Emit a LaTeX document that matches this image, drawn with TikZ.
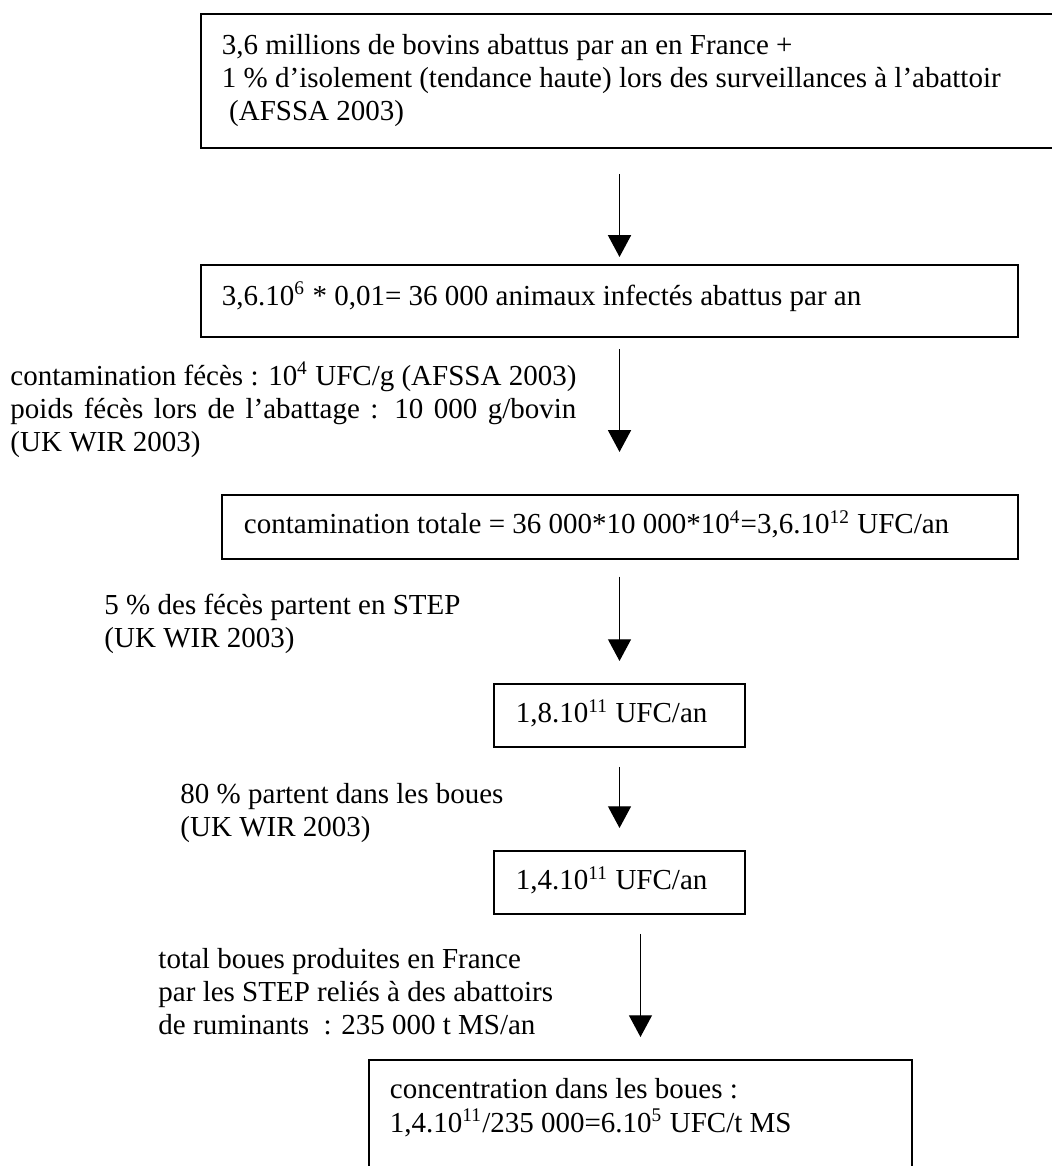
\documentclass[tikz,border=0pt]{standalone}
\usepackage{fontspec}
\setmainfont{Liberation Serif}
\usetikzlibrary{arrows.meta}
\tikzset{
  box/.style={draw=black, line width=0.8pt, anchor=north west, align=flush left, inner ysep=0pt, inner xsep=8.7pt, text height=16.1pt},
  note/.style={anchor=base west, align=flush left, text width=200pt, inner sep=0pt},
  link/.style={arrows={-Triangle[length=9pt,width=9.5pt]}, line width=0.6pt}
}
\begin{document}
\begin{tikzpicture}[x=0.4138pt, y=-0.4138pt, font=\fontsize{12}{13.8}\selectfont]
  \useasboundingbox (0,0) rectangle (1052,1166);

  \node[box, text width=338.5pt, text height=16.6pt, text depth=38.9pt] at (200,13) (bovins) {3,6 millions de bovins abattus par an en France +\\1 \% d’isolement (tendance haute) lors des surveillances à l’abattoir\\\hspace*{0.25em}(AFSSA 2003)};
  \node[box, text width=320.7pt, text height=16.6pt, text depth=13.2pt] at (200,264) (infectes) {3,6.10\textsuperscript{6} * 0,01= 36 000 animaux infectés abattus par an};
  \node[box, inner xsep=9.1pt, text width=311.2pt, text depth=10.3pt] at (221,494) (total) {contamination totale = 36 000*10 000*10\textsuperscript{4}=3,6.10\textsuperscript{12} UFC/an};
  \node[box, inner xsep=9.1pt, text width=85.7pt, text depth=9.9pt] at (493,683) (step_in) {1,8.10\textsuperscript{11} UFC/an};
  \node[box, inner xsep=9.1pt, text width=85.7pt, text depth=9.9pt] at (493,850) (boues_in) {1,4.10\textsuperscript{11} UFC/an};
  \node[box, text width=207.3pt, text depth=38pt] at (368,1059) (concentration) {concentration dans les boues :\\1,4.10\textsuperscript{11}/235 000=6.10\textsuperscript{5} UFC/t MS};

  \node[note, text width=234.2pt, align=justify] at (10,385) (feces_note) {contamination fécès : 10\textsuperscript{4} UFC/g (AFSSA 2003)\linebreak poids fécès lors de l’abattage : 10 000 g/bovin\linebreak (UK WIR 2003)};
  \node[note] at (104,614) (step_note) {5 \% des fécès partent en STEP\\(UK WIR 2003)};
  \node[note] at (180,803) (boues_note) {80 \% partent dans les boues\\(UK WIR 2003)};
  \node[note] at (158,968) (ms_note) {total boues produites en France\\par les STEP reliés à des abattoirs\\de ruminants\ \ : 235 000 t MS/an};

  \draw[link, shorten <=10.3pt, shorten >=2.9pt] (bovins.south -| step_in.north) -- (infectes.north -| step_in.north);
  \draw[link, shorten <=4.6pt, shorten >=17.4pt] (infectes.south -| step_in.north) -- (total.north -| step_in.north);
  \draw[link, shorten <=7pt, shorten >=9.1pt] (total.south -| step_in.north) -- (step_in.north);
  \draw[link, shorten <=7.9pt, shorten >=9.1pt] (step_in.south) -- (boues_in.north);
  \draw[link, shorten <=7.9pt, shorten >=9.1pt] (boues_in.south -| concentration.north) -- (concentration.north);
\end{tikzpicture}
\end{document}
